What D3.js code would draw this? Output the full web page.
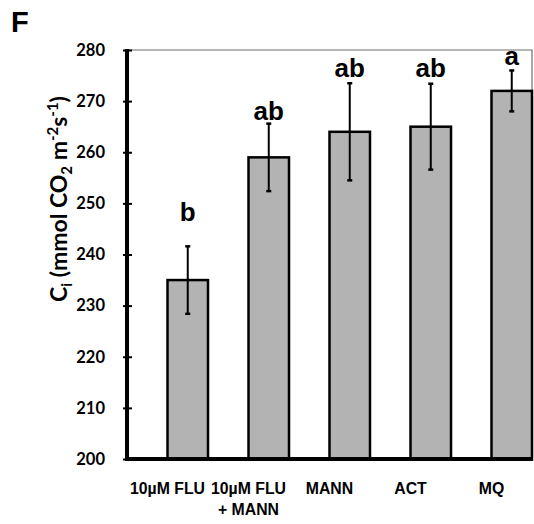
<!DOCTYPE html>
<html>
<head>
<meta charset="utf-8">
<script src="https://cdn.jsdelivr.net/npm/d3@7"></script>
<style>
  html, body { margin: 0; padding: 0; background: #fff; }
  svg { display: block; }
</style>
</head>
<body>
<svg id="chart" width="534" height="524"></svg>
<script>
// Intercellular CO2 (Ci) by treatment, mean ± error
const categories = ["10µM FLU", "10µM FLU\n+ MANN", "MANN", "ACT", "MQ"];
const means = [235, 259, 264, 265, 272];
const errors = [6.6, 6.6, 9.5, 8.4, 4.0];
const letters = ["b", "ab", "ab", "ab", "a"];
const yTicks = [200, 210, 220, 230, 240, 250, 260, 270, 280];

// Layout
const plot = { left: 127, right: 532, top: 50, bottom: 459 };
const letterGap = [25, 4, 6.5, 6.5, 5];   // px between error cap and letter
const numFont = "'Lato', 'Open Sans', sans-serif";
const arialBold = "'Liberation Sans', Arial, sans-serif";

const svg = d3.select("#chart");
svg.append("rect").attr("width", 534).attr("height", 524).attr("fill", "#fff");

const x = d3.scaleBand().domain(d3.range(categories.length))
  .range([plot.left, plot.right]).padding(0);
// each category holds two slots; the measured series sits in the second one
const slot = d3.scaleBand().domain(["blank", "value"]).range([0, x.bandwidth()]).padding(0);
const y = d3.scaleLinear().domain([200, 280]).range([plot.bottom, plot.top]);

// Thin frame on top and right
svg.append("path")
  .attr("d", `M${plot.left},${y(280)}H${plot.right}V${y(200)}`)
  .attr("fill", "none").attr("stroke", "#6e6e6e").attr("stroke-width", 1.2);

// Bars
const barX = i => x(i) + slot("value");
const barC = i => barX(i) + slot.bandwidth() / 2;
svg.append("g").selectAll("rect").data(means).join("rect")
  .attr("x", (d, i) => barX(i))
  .attr("y", d => y(d))
  .attr("width", slot.bandwidth())
  .attr("height", d => y(200) - y(d))
  .attr("fill", "#b3b3b3")
  .attr("stroke", "#000").attr("stroke-width", 2.5);

// Error bars
const eb = svg.append("g").attr("stroke", "#000");
means.forEach((m, i) => {
  const cx = barC(i);
  eb.append("line").attr("x1", cx).attr("x2", cx)
    .attr("y1", y(m + errors[i])).attr("y2", y(m - errors[i])).attr("stroke-width", 2);
  [m + errors[i], m - errors[i]].forEach(v => {
    eb.append("line").attr("x1", cx - 2.5).attr("x2", cx + 2.5)
      .attr("y1", y(v)).attr("y2", y(v)).attr("stroke-width", 2.5);
  });
});

// Significance letters
svg.append("g").selectAll("text").data(letters).join("text")
  .attr("x", (d, i) => barC(i))
  .attr("y", (d, i) => y(means[i] + errors[i]) - letterGap[i])
  .attr("text-anchor", "middle")
  .attr("font-family", arialBold).attr("font-weight", "bold").attr("font-size", 26)
  .text(d => d);

// Y axis
const yAxis = d3.axisLeft(y).tickValues(yTicks).tickSize(0).tickPadding(22).tickFormat(d3.format("d"));
const yg = svg.append("g").attr("transform", `translate(${plot.left},0)`).call(yAxis);
yg.select(".domain").remove();
yg.selectAll(".tick text")
  .attr("font-family", numFont).attr("font-weight", "bold").attr("font-size", 16.5).attr("fill", "#000");
yg.selectAll(".tick").append("line")
  .attr("x1", -4).attr("x2", 5).attr("stroke", "#000").attr("stroke-width", 2);
svg.append("line").attr("x1", plot.left).attr("x2", plot.left)
  .attr("y1", y(280) - 1).attr("y2", y(200) + 2)
  .attr("stroke", "#000").attr("stroke-width", 4);

// X axis baseline
svg.append("line").attr("x1", plot.left - 2).attr("x2", plot.right + 1)
  .attr("y1", y(200)).attr("y2", y(200))
  .attr("stroke", "#000").attr("stroke-width", 4);

// Category labels (centred on each category band)
const xl = svg.append("g").attr("font-family", arialBold).attr("font-weight", "bold")
  .attr("font-size", 17).attr("text-anchor", "middle");
categories.forEach((c, i) => {
  const t = xl.append("text").attr("x", x(i) + x.bandwidth() / 2).attr("y", 494)
    .attr("transform", `translate(${x(i) + x.bandwidth() / 2},0) scale(0.93,1) translate(${-(x(i) + x.bandwidth() / 2)},0)`);
  c.split("\n").forEach((line, k) => {
    t.append("tspan").attr("x", x(i) + x.bandwidth() / 2).attr("dy", k ? 21 : 0).text(line);
  });
});

// Y axis title
const yt = svg.append("text")
  .attr("transform", "translate(67,199) rotate(-90)")
  .attr("text-anchor", "middle")
  .attr("font-family", numFont).attr("font-weight", "bold").attr("font-size", 23);
yt.append("tspan").text("C");
yt.append("tspan").attr("font-size", 15).attr("dy", 5).text("i");
yt.append("tspan").attr("dy", -5).text(" (mmol CO");
yt.append("tspan").attr("font-size", 15).attr("dy", 5).text("2");
yt.append("tspan").attr("dy", -5).text(" m");
yt.append("tspan").attr("font-size", 15).attr("dy", -9).text("-2");
yt.append("tspan").attr("dy", 9).text("s");
yt.append("tspan").attr("font-size", 15).attr("dy", -9).text("-1");
yt.append("tspan").attr("dy", 9).text(")");

// Panel letter
svg.append("text").attr("x", 11).attr("y", 32)
  .attr("font-family", arialBold).attr("font-weight", "bold").attr("font-size", 29)
  .text("F");
</script>
</body>
</html>
